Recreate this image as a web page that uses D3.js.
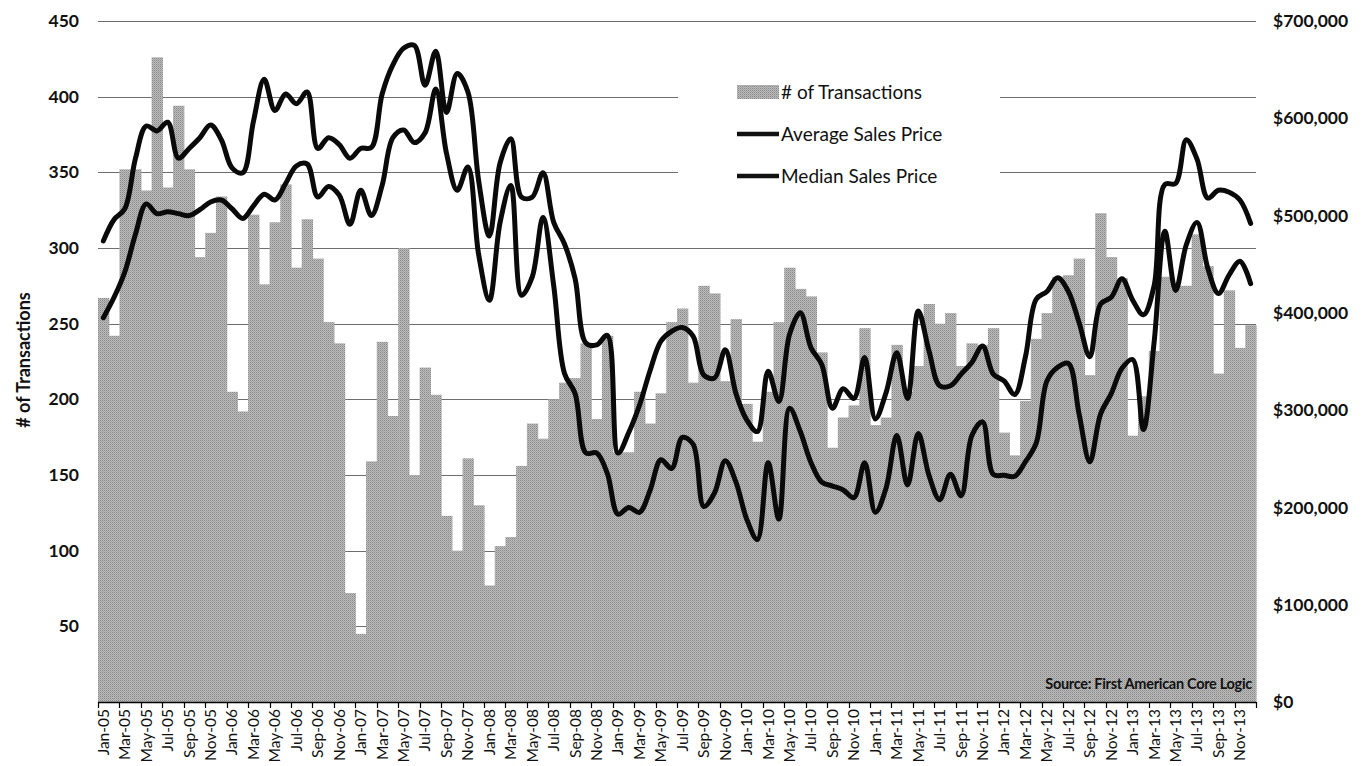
<!DOCTYPE html>
<html>
<head>
<meta charset="utf-8">
<script src="https://cdn.jsdelivr.net/npm/d3@7"></script>
<style>
  body { margin: 0; background: #fff; }
  svg { display: block; font-family: Lato, 'Open Sans', sans-serif; }
</style>
</head>
<body>
<div class="chart"></div>
<script>
// categories
const monthNames = ['Jan','Feb','Mar','Apr','May','Jun','Jul','Aug','Sep','Oct','Nov','Dec'];
const years = ['05','06','07','08','09','10','11','12','13'];
const months = years.flatMap(y => monthNames.map(m => m + '-' + y));

// # of transactions (left axis)
const transactions = [
    267,242,352,352,338,426,340,394,352,294,310,334,
    205,192,322,276,317,342,287,319,293,251,237,72,
    45,159,238,189,300,150,221,203,123,100,161,130,
    77,103,109,156,184,174,200,211,214,237,187,242,
    165,165,205,184,204,251,260,211,275,270,212,253,
    197,172,205,251,287,273,268,231,168,188,196,247,
    183,188,236,205,222,263,250,257,222,237,236,247,
    178,163,199,240,257,281,282,293,216,323,294,280,
    176,202,232,281,275,275,309,288,217,272,234,249
];

// average sales price, $ thousands (right axis)
const avgPrice = [
    474,496,507,559,592,587,596,559,569,580,593,578,
    549,544,597,640,608,625,615,627,569,580,573,559,
    569,570,625,655,672,675,634,669,606,646,627,536,
    479,554,579,519,519,544,493,471,435,369,367,377,
    256,277,305,341,371,381,385,376,336,333,362,317,
    290,278,340,309,378,400,364,347,302,322,312,354,
    291,318,359,312,402,361,325,325,337,349,366,337,
    330,316,355,414,422,436,422,390,355,409,416,435,
    413,398,428,532,533,578,558,518,526,524,516,492
];

// median sales price, $ thousands (right axis)
const medianPrice = [
    395,416,442,481,512,502,504,502,500,506,514,516,
    507,497,510,522,516,533,551,553,519,530,521,491,
    526,500,531,580,588,575,585,630,564,526,550,460,
    413,493,531,418,437,498,428,338,317,256,256,235,
    193,200,195,218,249,240,272,265,201,215,248,226,
    188,167,246,188,302,278,246,226,222,218,210,246,
    195,220,274,223,276,233,208,234,212,274,288,234,
    233,232,247,266,330,344,348,296,247,296,317,343,
    352,280,370,484,423,470,493,446,420,439,453,430
];

const leftTicks = [50,100,150,200,250,300,350,400,450];
const rightTicks = [0,100,200,300,400,500,600,700];
const legendItems = ['# of Transactions','Average Sales Price','Median Sales Price'];

const width = 1369;
const height = 766;
const plot = ({left: 98, right: 1256, top: 21, bottom: 702});

const svg = d3.select('.chart')
    .append('svg')
    .attr('width', width)
    .attr('height', height);

// dithered grey like the scanned bars
const pat = svg.append('defs').append('pattern')
    .attr('id', 'dither')
    .attr('width', 2)
    .attr('height', 2)
    .attr('patternUnits', 'userSpaceOnUse');
pat.append('rect').attr('width', 2).attr('height', 2).attr('fill', '#bcbcbc');
pat.append('rect').attr('width', 1).attr('height', 1).attr('fill', '#888');
pat.append('rect').attr('x', 1).attr('y', 1).attr('width', 1).attr('height', 1).attr('fill', '#a2a2a2');

const xScale = d3.scaleBand()
    .domain(months)
    .range([plot.left, plot.right])
    .padding(0);

const yLeft = d3.scaleLinear()
    .domain([0, 450])
    .range([plot.bottom, plot.top]);

const yRight = d3.scaleLinear()
    .domain([0, 700])
    .range([plot.bottom, plot.top]);

// gridlines
svg.append('g')
    .attr('class', 'grid')
    .selectAll('line')
    .data(leftTicks)
    .enter()
    .append('line')
    .attr('x1', plot.left)
    .attr('x2', plot.right)
    .attr('y1', d => Math.round(yLeft(d)) + 0.5)
    .attr('y2', d => Math.round(yLeft(d)) + 0.5)
    .attr('stroke', '#6e6e6e')
    .attr('stroke-width', 1);

// bars
svg.append('g')
    .attr('class', 'bars')
    .selectAll('rect')
    .data(transactions)
    .enter()
    .append('rect')
    .attr('x', (d, i) => xScale(months[i]))
    .attr('width', xScale.bandwidth() + 0.6)
    .attr('y', d => yLeft(d))
    .attr('height', d => yLeft(0) - yLeft(d))
    .attr('fill', 'url(#dither)');

// price lines
const line = series => d3.line()
    .curve(d3.curveCatmullRom.alpha(0.5))
    .x((d, i) => xScale(months[i]) + xScale.bandwidth() / 2)
    .y(d => yRight(d))(series);

[avgPrice, medianPrice].forEach(series => {
    svg.append('path')
        .attr('d', line(series))
        .attr('fill', 'none')
        .attr('stroke', '#0a0a0a')
        .attr('stroke-width', 5)
        .attr('stroke-linejoin', 'round')
        .attr('stroke-linecap', 'round');
});

// x axis
const xAxis = svg.append('g').attr('class', 'x-axis');
xAxis.append('line')
    .attr('x1', plot.left)
    .attr('x2', plot.right)
    .attr('y1', plot.bottom + 0.5)
    .attr('y2', plot.bottom + 0.5)
    .attr('stroke', '#000')
    .attr('stroke-width', 1.5);

const tickPos = months.filter((m, i) => i % 2 === 0).map(m => xScale(m)).concat([plot.right]);
xAxis.selectAll('.tick-mark')
    .data(tickPos)
    .enter()
    .append('line')
    .attr('class', 'tick-mark')
    .attr('x1', d => Math.round(d) + 0.5)
    .attr('x2', d => Math.round(d) + 0.5)
    .attr('y1', plot.bottom)
    .attr('y2', plot.bottom + 6)
    .attr('stroke', '#000')
    .attr('stroke-width', 1.2);

xAxis.selectAll('text')
    .data(months.filter((m, i) => i % 2 === 0))
    .enter()
    .append('text')
    .attr('transform', d => 'translate(' + (xScale(d) + xScale.bandwidth() / 2) + ',' + (plot.bottom + 7) + ') rotate(-90)')
    .attr('text-anchor', 'end')
    .attr('dy', '0.35em')
    .attr('font-size', 15.5)
    .attr('fill', '#111')
    .text(d => d);

// left axis labels
const leftAxis = d3.axisLeft(yLeft)
    .tickValues(leftTicks)
    .tickSize(0)
    .tickPadding(0);

svg.append('g')
    .attr('class', 'axis y-axis')
    .attr('transform', 'translate(79,0)')
    .call(leftAxis)
    .call(g => g.select('.domain').remove())
    .call(g => g.selectAll('text')
        .attr('font-family', 'Lato, sans-serif')
        .attr('font-size', 17.5)
        .attr('font-weight', 'bold')
        .attr('fill', '#111'));

// right axis labels
const rightAxis = d3.axisRight(yRight)
    .tickValues(rightTicks)
    .tickSize(0)
    .tickPadding(0)
    .tickFormat(d => '$' + d3.format(',')(d * 1000));

svg.append('g')
    .attr('class', 'axis y2-axis')
    .attr('transform', 'translate(1273,0)')
    .call(rightAxis)
    .call(g => g.select('.domain').remove())
    .call(g => g.selectAll('text')
        .attr('font-family', 'Lato, sans-serif')
        .attr('font-size', 17.5)
        .attr('font-weight', 'bold')
        .attr('fill', '#111'));

// y axis title
svg.append('text')
    .attr('transform', 'translate(24,' + 360 + ') rotate(-90)')
    .attr('text-anchor', 'middle')
    .attr('dy', '0.35em')
    .attr('font-size', 18)
    .attr('font-weight', 'bold')
    .attr('fill', '#111')
    .text('# of Transactions');

// source note
svg.append('text')
    .attr('x', 1252)
    .attr('y', 689)
    .attr('text-anchor', 'end')
    .attr('font-size', 14.5)
    .attr('font-weight', 'bold')
    .attr('letter-spacing', -0.3)
    .attr('fill', '#111')
    .text('Source: First American Core Logic');

// legend
const legend = svg.append('g').attr('class', 'legend');
legend.append('rect')
    .attr('x', 678)
    .attr('y', 58)
    .attr('width', 322)
    .attr('height', 142)
    .attr('fill', '#fff');

const rowY = [92, 134, 176];
legend.append('rect')
    .attr('x', 737)
    .attr('y', rowY[0] - 7)
    .attr('width', 42)
    .attr('height', 14)
    .attr('fill', 'url(#dither)');
[1, 2].forEach(i => {
    legend.append('line')
        .attr('x1', 737)
        .attr('x2', 779)
        .attr('y1', rowY[i])
        .attr('y2', rowY[i])
        .attr('stroke', '#111')
        .attr('stroke-width', 4.5);
});
legend.selectAll('text')
    .data(legendItems)
    .enter()
    .append('text')
    .attr('x', 781)
    .attr('y', (d, i) => rowY[i])
    .attr('dy', '0.35em')
    .attr('font-size', 19)
    .attr('fill', '#111')
    .text(d => d);
</script>
</body>
</html>
